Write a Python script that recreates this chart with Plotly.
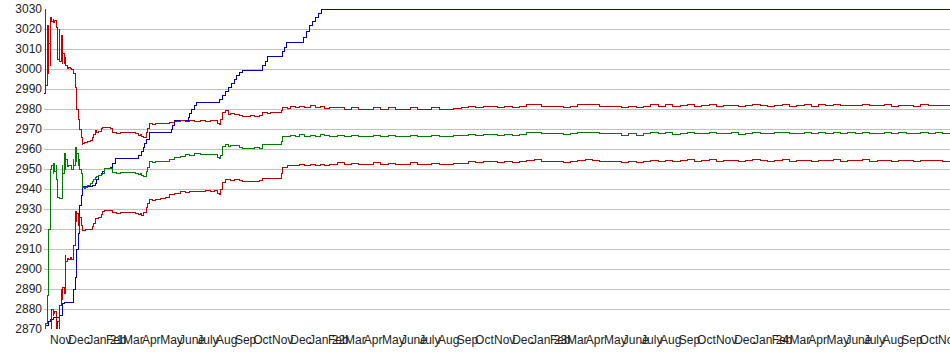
import pandas as pd
import plotly.graph_objects as go

START = "2020-10-22"
END = "2024-11-20"

# day offsets from START shared by the three band series
DAYS = [
    0, 2, 3, 5, 7, 8, 10, 11, 13, 15,
    16, 18, 20, 21, 23, 25, 26, 28, 30, 31,
    33, 35, 36, 38, 41, 43, 46, 48, 49, 51,
    53, 54, 56, 58, 59, 61, 63, 64, 67, 69,
    72, 76, 79, 82, 84, 87, 90, 94, 97, 99,
    100, 104, 109, 112, 113, 117, 120, 125, 133, 141,
    150, 155, 158, 160, 164, 168, 171, 174, 179, 183,
    191, 199, 207, 215, 224, 232, 240, 248, 257, 265,
    273, 281, 285, 288, 291, 294, 298, 303, 306, 314,
    322, 326, 331, 339, 347, 355, 360, 364, 367, 372,
    380, 388, 390, 393, 400, 405, 413, 421, 429, 438,
    446, 454, 462, 470,
    482, 494, 506, 518, 530, 542, 554, 566, 578, 590,
    602, 614, 626, 638, 650, 662, 674, 686, 698, 710,
    722, 734, 746, 758, 770, 782, 794, 806, 818, 830,
    842, 854, 866, 878, 890, 902, 914, 926, 938, 950,
    962, 974, 986, 998, 1010, 1022, 1034, 1046, 1058, 1070,
    1082, 1094, 1106, 1118, 1130, 1142, 1154, 1166, 1178, 1190,
    1202, 1214, 1226, 1238, 1250, 1262, 1274, 1286, 1298, 1310,
    1322, 1334, 1346, 1358, 1370, 1382, 1394, 1406, 1418, 1430,
    1442, 1454, 1466, 1478, 1490,
]

UPPER = [
    2988, 3030, 2992, 3022, 2998, 3013, 3002, 3026, 3024, 3025,
    3023.5, 3024.5, 3023, 3021, 3005, 3020, 3004, 3017, 3003, 3008,
    3003, 3006, 3002, 3000.5, 3001, 3000.5, 3000, 2999.5, 2998, 2991,
    2989, 2980, 2975, 2972, 2970, 2966, 2962.5, 2963, 2963.5, 2963.5,
    2964, 2964.5, 2966, 2967.5, 2969.5, 2968.5, 2969, 2970.5, 2971, 2971,
    2971, 2971, 2970.5, 2968.3, 2968.3, 2968.5, 2968, 2968.5, 2968.3, 2968.5,
    2968, 2967, 2967.5, 2966.5, 2966, 2968.5, 2970.5, 2972.8, 2972.5, 2973,
    2972.8, 2973, 2973.3, 2974, 2974.2, 2973.8, 2974.3, 2974, 2974.5, 2974,
    2974.3, 2974.2, 2973, 2972.5, 2975, 2978.5, 2979.2, 2977.5, 2977.8, 2977.5,
    2977, 2976.3, 2976.5, 2976.8, 2976.3, 2977, 2978.3, 2978.3, 2978, 2978.3,
    2978.5, 2978.3, 2979.5, 2980.8, 2980.5, 2981.3, 2980.8, 2981.5, 2980.8, 2981.8,
    2981, 2981.3, 2980.5, 2980.8,
    2980.8, 2980, 2980.6, 2980, 2980, 2980.8, 2980, 2980.6, 2980, 2980,
    2980.8, 2980, 2980, 2980.6, 2980, 2980, 2980.5, 2980.6, 2981.3, 2980.8,
    2981.3, 2981.3, 2980.8, 2981.3, 2980.8, 2981.3, 2982.2, 2982.5, 2981.5, 2981.5,
    2981.5, 2981, 2981.5, 2982.2, 2982.5, 2982.2, 2981.5, 2981.5, 2981.5, 2980.8,
    2981.5, 2980.8, 2981.5, 2982.2, 2981.5, 2982.2, 2981.3, 2981.8, 2982.3, 2981.5,
    2981.8, 2982.3, 2981.5, 2981.8, 2982, 2981.3, 2981.8, 2982.3, 2981.8, 2981.5,
    2982, 2982.3, 2981.5, 2981.8, 2982.1, 2981.5, 2982.1, 2981.8, 2982.3, 2981.6,
    2982, 2981.8, 2982.3, 2981.6, 2981.8, 2982.1, 2981.5, 2982, 2981.8, 2981.5,
    2982.1, 2981.8, 2982, 2981.6, 2981.8,
]

MID = [
    2870, 2871, 2873, 2887, 2898, 2920, 2940, 2950, 2952, 2948,
    2953, 2949, 2952, 2945, 2936, 2935.5, 2935.5, 2935.5, 2952, 2948,
    2958, 2950, 2955, 2951.5, 2952, 2952, 2950, 2955, 2952, 2961,
    2954, 2958, 2952, 2955, 2950, 2948, 2946, 2941, 2940.5, 2941,
    2942, 2943, 2944, 2945, 2946, 2946.5, 2947, 2947.5, 2948, 2949,
    2950.5, 2950.5, 2950.5, 2948.5, 2948.3, 2948.5, 2948, 2948.5, 2948.3, 2948.5,
    2948, 2947.5, 2948, 2947, 2946.5, 2949, 2951, 2953.8, 2953.5, 2954,
    2953.8, 2954, 2955, 2956, 2956.3, 2957.3, 2957, 2957.8, 2957.3, 2957.5,
    2957.3, 2957.5, 2956, 2955.3, 2957, 2961.5, 2962.2, 2961.5, 2961.8, 2961.7,
    2961, 2960.3, 2960.5, 2960.3, 2961, 2960.5, 2962.5, 2962.3, 2962.5, 2962.3,
    2962.5, 2962.3, 2964, 2966.3, 2966.5, 2966.8, 2966.3, 2967.3, 2966.5, 2967,
    2966.5, 2967.3, 2966.8, 2966.3,
    2967, 2966.2, 2966.8, 2966.2, 2966.2, 2967, 2966.2, 2966.8, 2966.2, 2966.2,
    2967, 2966.2, 2966.2, 2966.8, 2966.2, 2966.2, 2966.8, 2966.8, 2967.5, 2967,
    2967.5, 2967.5, 2967, 2967.5, 2967, 2967.5, 2968.2, 2968.5, 2967.7, 2967.7,
    2967.7, 2967.2, 2967.7, 2968.2, 2968.5, 2968.2, 2967.7, 2967.7, 2967.7, 2967,
    2967.7, 2967, 2967.7, 2968.2, 2967.7, 2968.2, 2967.5, 2968, 2968.5, 2967.7,
    2968, 2968.5, 2967.7, 2968, 2968.2, 2967.5, 2968, 2968.5, 2968, 2967.7,
    2968.2, 2968.5, 2967.7, 2968, 2968.3, 2967.7, 2968.3, 2968, 2968.5, 2967.8,
    2968.2, 2968, 2968.5, 2967.8, 2968, 2968.3, 2967.7, 2968.2, 2968, 2967.7,
    2968.3, 2968, 2968.2, 2967.8, 2968,
]

LOWER = [
    2870, 2870, 2870, 2870, 2870, 2870, 2870, 2870, 2880, 2877,
    2878, 2879, 2876, 2870, 2874, 2870, 2882, 2890, 2885, 2891,
    2888, 2907, 2904, 2905.5, 2905, 2906, 2905, 2907, 2912, 2929,
    2924, 2928, 2922, 2919, 2926, 2922, 2920, 2919.5, 2919.5, 2919.8,
    2920, 2920, 2921.5, 2923, 2925.5, 2925.5, 2926, 2927.5, 2929, 2929.5,
    2929.5, 2929.3, 2929.3, 2928.5, 2928.3, 2928.3, 2928, 2928.5, 2928.3, 2928.3,
    2928, 2927.5, 2928, 2927, 2928.5, 2931, 2933, 2935, 2934.5, 2935,
    2935.3, 2936, 2937.5, 2937.8, 2938.7, 2938.3, 2938.8, 2939, 2938.7, 2939.2,
    2939, 2939.2, 2938, 2937.5, 2940, 2943.5, 2944.7, 2944.7, 2944.5, 2944.7,
    2944.2, 2943.8, 2943.8, 2944, 2943.8, 2944.3, 2945.3, 2945.5, 2945.3, 2945.5,
    2945.5, 2945.3, 2948, 2951, 2951.7, 2952, 2951.7, 2952.3, 2951.8, 2952.5,
    2952, 2952.2, 2951.8, 2952.2,
    2953.2, 2952.4, 2953, 2952.4, 2952.4, 2953.2, 2952.4, 2953, 2952.4, 2952.4,
    2953.2, 2952.4, 2952.4, 2953, 2952.4, 2952.4, 2953, 2953, 2953.7, 2953.2,
    2953.7, 2953.7, 2953.2, 2953.7, 2953.2, 2953.7, 2954.4, 2954.7, 2953.9, 2953.9,
    2953.9, 2953.4, 2953.9, 2954.4, 2954.7, 2954.4, 2953.9, 2953.9, 2953.9, 2953.2,
    2953.9, 2953.2, 2953.9, 2954.4, 2953.9, 2954.4, 2953.7, 2954.2, 2954.7, 2953.9,
    2954.2, 2954.7, 2953.9, 2954.2, 2954.4, 2953.7, 2954.2, 2954.7, 2954.2, 2953.9,
    2954.4, 2954.7, 2953.9, 2954.2, 2954.5, 2953.9, 2954.5, 2954.2, 2954.7, 2954,
    2954.4, 2954.2, 2954.7, 2954, 2954.2, 2954.5, 2953.9, 2954.4, 2954.2, 2953.9,
    2954.5, 2954.2, 2954.4, 2954, 2954.2,
]

BLUE_DAYS = [
    0, 3, 7, 10, 15, 26, 30, 31, 33, 48,
    49, 51, 53, 54, 56, 58, 59, 61, 63, 64,
    79, 84, 87, 90, 94, 97, 100, 109, 113, 117,
    156, 160, 163, 166, 169, 173, 174, 209, 212, 215,
    237, 240, 243, 247, 250, 288, 293, 298, 303, 308,
    313, 317, 322, 327, 360, 364, 367, 392, 395, 398,
    426, 431, 436, 441, 446, 451, 456, 1490,
]
BLUE = [
    2870, 2872, 2874, 2875, 2876, 2877, 2880, 2883, 2883.5, 2886,
    2890, 2896, 2903, 2910, 2918, 2925, 2932, 2937, 2940, 2941.3,
    2942, 2943, 2945, 2947, 2948, 2949, 2950.3, 2951, 2953, 2955.3,
    2957, 2959, 2961, 2963, 2965, 2967, 2968.3, 2970, 2972, 2974.5,
    2976, 2978, 2980, 2982, 2983.3, 2985, 2987, 2989, 2991, 2993,
    2995, 2997, 2998.5, 2999.5, 3002, 3004, 3006.3, 3009, 3011, 3013.3,
    3016, 3019, 3022, 3024, 3026, 3028, 3030, 3030,
]

MONTH_NAMES = ["Jan", "Feb", "Mar", "Apr", "May", "June", "July",
               "Aug", "Sep", "Oct", "Nov", "Dec"]
Y_TICKS = list(range(2870, 3031, 10))
FONT = dict(family="Liberation Sans, Arial, sans-serif", size=12, color="#222222")

start = pd.Timestamp(START)
x_band = start + pd.to_timedelta(DAYS, unit="D")
x_blue = start + pd.to_timedelta(BLUE_DAYS, unit="D")

tick_dates = pd.date_range("2020-11-01", "2024-11-01", freq="MS")
tick_text = [
    (f"Jan {d.year % 100:02d}" if d.month == 1 else MONTH_NAMES[d.month - 1])
    for d in tick_dates
]

fig = go.Figure()
fig.add_trace(go.Scatter(x=x_blue, y=BLUE, mode="lines", line_shape="hv",
                         line=dict(color="#0000bb", width=1)))
fig.add_trace(go.Scatter(x=x_band, y=LOWER, mode="lines", line_shape="hv",
                         line=dict(color="#c00000", width=1)))
fig.add_trace(go.Scatter(x=x_band, y=MID, mode="lines", line_shape="hv",
                         line=dict(color="#007a00", width=1)))
fig.add_trace(go.Scatter(x=x_band, y=UPPER, mode="lines", line_shape="hv",
                         line=dict(color="#c00000", width=1)))

fig.update_layout(
    width=950, height=355,
    margin=dict(l=44, r=0, t=8, b=26),
    plot_bgcolor="white", paper_bgcolor="white",
    showlegend=False,
    font=FONT,
)
fig.update_xaxes(
    type="date", range=[START, END], automargin=False,
    tickmode="array", tickvals=tick_dates[:-1], ticktext=tick_text[:-1],
    ticklabelposition="outside right", tickangle=0, ticklabelstandoff=2,
    showgrid=False, zeroline=False, showline=False, ticks="",
)
fig.update_yaxes(
    range=[2870, 3030.5], automargin=False,
    tickmode="array", tickvals=Y_TICKS, ticklabelstandoff=1,
    showgrid=True, gridcolor="#c0c0c0", gridwidth=1,
    zeroline=False, showline=False, ticks="",
)
# final month label runs past the right edge of the chart, as in the original
fig.add_annotation(
    x=tick_dates[-1], y=0, xref="x", yref="paper",
    text=tick_text[-1], showarrow=False, xanchor="left", yanchor="top",
    yshift=-3, xshift=-1, font=FONT, borderpad=0,
)

fig.write_html(
    "out.html",
    config={"displayModeBar": False},
    post_script=(
        "document.body.style.margin='0';document.body.style.padding='0';"
        "document.querySelectorAll('.scatterlayer path.js-line')"
        ".forEach(function(p){p.style.shapeRendering='crispEdges';});"
    ),
)
